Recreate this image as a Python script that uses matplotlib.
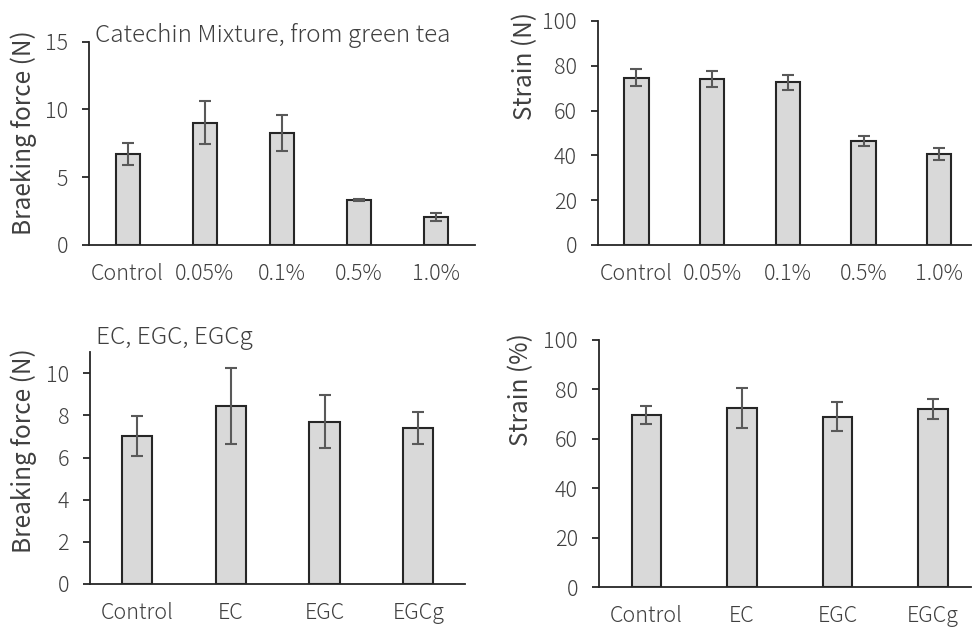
import matplotlib
matplotlib.use('Agg')
import matplotlib.pyplot as plt

plt.rcParams['font.family'] = ['Noto Sans CJK JP', 'DejaVu Sans']
plt.rcParams['font.weight'] = 'light'
plt.rcParams['font.size'] = 15

# Catechin mixture (top row)
mix_labels = ['Control', '0.05%', '0.1%', '0.5%', '1.0%']
mix_force = [6.69, 9.02, 8.26, 3.32, 2.04]
mix_force_err = [0.80, 1.60, 1.30, 0.06, 0.30]
mix_strain = [74.7, 74.0, 72.6, 46.3, 40.6]
mix_strain_err = [3.7, 3.5, 3.3, 2.2, 2.8]

# EC, EGC, EGCg (bottom row)
cat_labels = ['Control', 'EC', 'EGC', 'EGCg']
cat_force = [7.03, 8.45, 7.71, 7.41]
cat_force_err = [0.95, 1.80, 1.25, 0.77]
cat_strain = [69.7, 72.4, 69.0, 72.2]
cat_strain_err = [3.6, 8.0, 5.7, 4.0]

text_col = '#404040'
bar_face = '#d9d9d9'
bar_edge = '#262626'
err_col = '#595959'


def bar_panel(ax, labels, values, errors, width, xlim, ylim, yticks, ylabel, label_xy):
    x = list(range(len(labels)))
    ax.bar(x, values, width=width, color=bar_face, edgecolor=bar_edge,
           linewidth=1.5, zorder=2)
    ax.errorbar(x, values, yerr=errors, fmt='none', ecolor=err_col,
                elinewidth=1.5, capsize=4.5, capthick=1.5, zorder=3)
    ax.set_xlim(*xlim)
    ax.set_ylim(*ylim)
    ax.set_yticks(yticks)
    ax.set_xticks(x)
    ax.set_xticklabels(labels)
    ax.set_ylabel(ylabel, color=text_col, fontsize=17.5)
    ax.yaxis.set_label_coords(*label_xy)
    ax.spines['top'].set_visible(False)
    ax.spines['right'].set_visible(False)
    for s in ['left', 'bottom']:
        ax.spines[s].set_color(bar_edge)
        ax.spines[s].set_linewidth(1.3)
    ax.tick_params(axis='x', length=0, pad=13, colors=text_col, labelsize=15.5)
    ax.tick_params(axis='y', length=5, width=1.3, colors=text_col,
                   labelsize=15.5, pad=10)
    ax.tick_params(axis='y', color=bar_edge)


fig = plt.figure(figsize=(9.72, 6.28), dpi=100)

ax1 = fig.add_axes([0.0916, 0.610, 0.397, 0.3237])
bar_panel(ax1, mix_labels, mix_force, mix_force_err, 0.31, (-0.5, 4.5),
          (0, 15), [0, 5, 10, 15], 'Braeking force (N)', (-0.134, 0.553))
ax1.text(0.016, 1.0, 'Catechin Mixture, from green tea', transform=ax1.transAxes,
         color=text_col, fontsize=17.5, ha='left', va='baseline')

ax2 = fig.add_axes([0.615, 0.610, 0.384, 0.3567])
bar_panel(ax2, mix_labels, mix_strain, mix_strain_err, 0.32, (-0.51, 4.42),
          (0, 100), [0, 20, 40, 60, 80, 100], 'Strain (N)', (-0.160, 0.80))

ax3 = fig.add_axes([0.0926, 0.0701, 0.386, 0.369])
bar_panel(ax3, cat_labels, cat_force, cat_force_err, 0.32, (-0.5, 3.5),
          (0, 11), [0, 2, 4, 6, 8, 10], 'Breaking force (N)', (-0.140, 0.574))
ax3.text(0.016, 1.036, 'EC, EGC, EGCg', transform=ax3.transAxes,
         color=text_col, fontsize=17.5, ha='left', va='baseline')

ax4 = fig.add_axes([0.616, 0.0648, 0.383, 0.394])
bar_panel(ax4, cat_labels, cat_strain, cat_strain_err, 0.31, (-0.5, 3.4),
          (0, 100), [0, 20, 40, 60, 80, 100], 'Strain (%)', (-0.175, 0.798))

fig.savefig('out.png', dpi=100)
